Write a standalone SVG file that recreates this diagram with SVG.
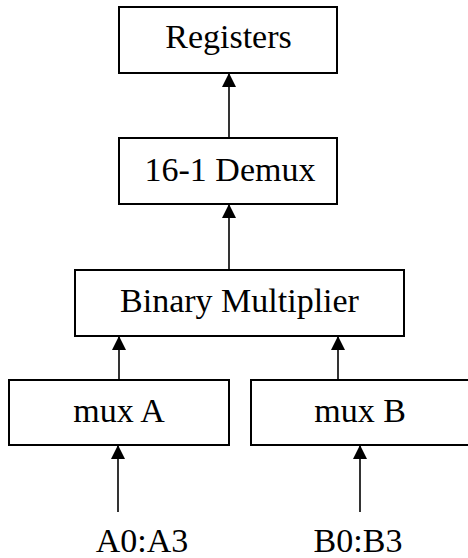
<svg xmlns="http://www.w3.org/2000/svg" width="468" height="558" viewBox="0 0 468 558">
<style>
.box{fill:#fff;stroke:#000;stroke-width:2}
text{font-family:"Liberation Serif","Times New Roman",serif;font-size:34px;fill:#000;text-anchor:middle}
.c line{stroke:#000;stroke-width:1.6;marker-end:url(#ah)}
</style>
<defs>
<marker id="ah" markerWidth="14" markerHeight="14" refX="14" refY="7" orient="auto" markerUnits="userSpaceOnUse" viewBox="0 0 14 14">
<path d="M0,0 L14,7 L0,14 Z" fill="#000"/>
</marker>
</defs>
<rect width="468" height="558" fill="#fff"/>
<g id="registers"><rect class="box" x="119" y="7" width="218" height="66"/><text x="228.5" y="48">Registers</text></g>
<g id="demux"><rect class="box" x="119" y="138" width="218" height="66"/><text x="230" y="181">16-1 Demux</text></g>
<g id="multiplier"><rect class="box" x="75" y="270" width="329" height="66"/><text x="239.5" y="312">Binary Multiplier</text></g>
<g id="muxA"><rect class="box" x="9" y="380" width="220" height="65"/><text x="119" y="422">mux A</text></g>
<g id="muxB"><rect class="box" x="251" y="380" width="220" height="65"/><text x="360" y="422">mux B</text></g>
<g id="inputA"><text x="142" y="552">A0:A3</text></g>
<g id="inputB"><text x="358" y="552">B0:B3</text></g>
<g class="c" id="connectors">
<line x1="229" y1="138" x2="229" y2="73"/>
<line x1="229" y1="270" x2="229" y2="204"/>
<line x1="119" y1="380" x2="119" y2="336"/>
<line x1="338" y1="380" x2="338" y2="336"/>
<line x1="118" y1="512" x2="118" y2="445"/>
<line x1="360" y1="512" x2="360" y2="445"/>
</g>
</svg>
